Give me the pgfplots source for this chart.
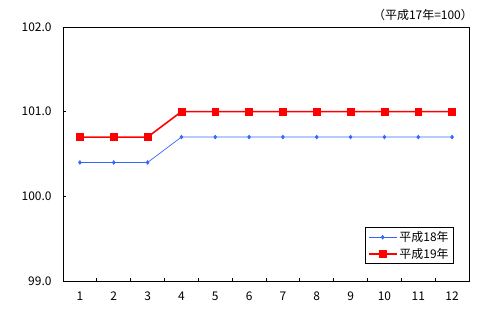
\documentclass[border=0pt]{standalone}
\usepackage{fontspec}
\setmainfont{Noto Sans CJK JP}
\usepackage{pgfplots}
\pgfplotsset{compat=1.18}
\definecolor{bl}{RGB}{51,102,255}
\begin{document}
\begin{tikzpicture}[x=1bp,y=1bp]
\begin{axis}[
  name=ax,
  at={(0,0)}, anchor=south west,
  scale only axis, width=406bp, height=254bp,
  xmin=0.5, xmax=12.5, ymin=99, ymax=102,
  xtick={1,...,12}, major x tick style={draw=none},
  minor xtick={1.5,2.5,...,11.5}, minor tick length=3.5bp,
  ytick={99,100,101,102}, major tick length=3.5bp,
  tick pos=left, tick align=inside,
  tick style={black, line width=0.8pt},
  axis line style={line width=0.8pt},
  yticklabel style={/pgf/number format/fixed, /pgf/number format/fixed zerofill, /pgf/number format/precision=1, xshift=-8bp},
  /pgf/number format/assume math mode=true,
  ticklabel style={font=\fontsize{12}{14}\selectfont},
  xticklabel style={yshift=-7bp},
  legend style={at={(1,0)}, anchor=south east, xshift=-15bp, yshift=17bp,
    font=\fontsize{12}{14}\selectfont, draw=black, line width=0.8pt,
    inner xsep=3pt, inner ysep=2pt, row sep=1pt, legend cell align=left},
  legend image code/.code={\draw[mark repeat=2,mark phase=2] plot coordinates {(0bp,0bp) (14bp,0bp) (28bp,0bp)};},
]
\addplot[bl, line width=0.7pt, mark=diamond*, mark size=1.8pt, mark options={fill=bl}]
  coordinates {(1,100.4)(2,100.4)(3,100.4)(4,100.7)(5,100.7)(6,100.7)(7,100.7)(8,100.7)(9,100.7)(10,100.7)(11,100.7)(12,100.7)};
\addlegendentry{平成18年}
\addplot[red, line width=1.6pt, mark=square*, mark size=3.4bp, mark options={fill=red, line width=0.5pt}]
  coordinates {(1,100.7)(2,100.7)(3,100.7)(4,101.0)(5,101.0)(6,101.0)(7,101.0)(8,101.0)(9,101.0)(10,101.0)(11,101.0)(12,101.0)};
\addlegendentry{平成19年}
\end{axis}
\node[anchor=base east, font=\fontsize{12}{14}\selectfont, inner sep=0pt] at ([xshift=4bp,yshift=7bp]ax.north east) {（平成17年=100）};
\pgfresetboundingbox
\path (-63bp,-47bp) rectangle (432bp,281bp);
\end{tikzpicture}
\end{document}
